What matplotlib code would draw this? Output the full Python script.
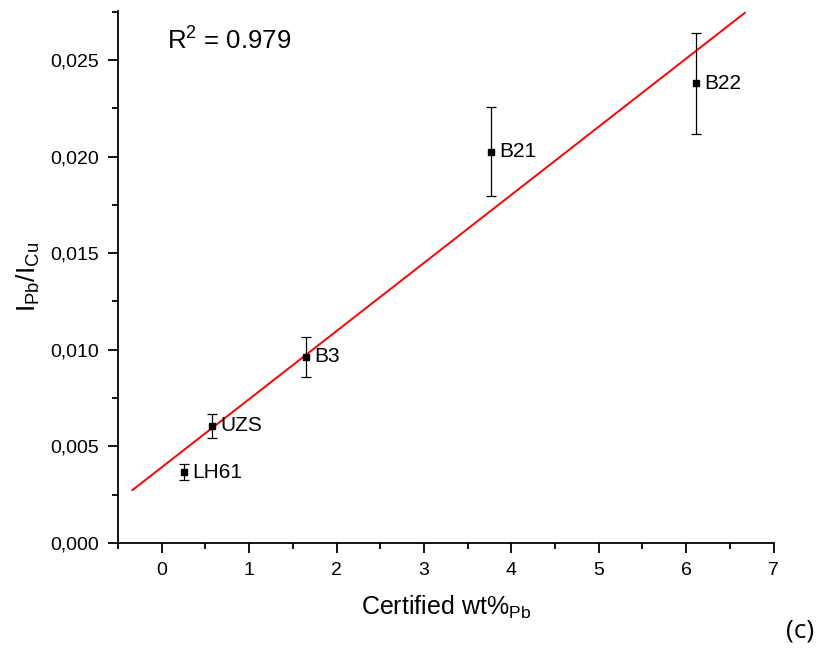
import numpy as np
import matplotlib
matplotlib.use('Agg')
import matplotlib.pyplot as plt
from matplotlib.ticker import MultipleLocator, FuncFormatter

plt.rcParams["font.family"] = "Liberation Sans"
plt.rcParams["mathtext.default"] = "regular"

# samples: certified Pb content vs intensity ratio
names = ['LH61', 'UZS', 'B3', 'B21', 'B22']
wt_pb = [0.25, 0.57, 1.646, 3.77, 6.11]
ratio = [0.00367, 0.00606, 0.00963, 0.02026, 0.02379]
ratio_err = [0.0004, 0.00063, 0.00105, 0.0023, 0.0026]

# linear fit line endpoints
fit_x = [-0.335, 6.67]
fit_slope = 0.003525
fit_icpt = 0.00392

fig = plt.figure(figsize=(8.22, 6.49), dpi=100)
ax = fig.add_axes([0.1436, 0.1633, 0.7975, 0.8197])

fx = np.array(fit_x)
ax.plot(fx, fit_slope*fx + fit_icpt, color='red', lw=1.4, zorder=1)
ax.errorbar(wt_pb, ratio, yerr=ratio_err, fmt='s', color='black', ms=4.5,
            ecolor='black', elinewidth=0.9, capsize=3.5, capthick=0.9, zorder=2)
for n, xv, yv in zip(names, wt_pb, ratio):
    ax.annotate(n, (xv, yv), xytext=(6, 0), textcoords='offset points',
                va='center', ha='left', fontsize=15)

ax.text(0.075, 0.97, 'R$^2$ = 0.979', transform=ax.transAxes, fontsize=18.5,
        va='top', ha='left')

ax.set_xlim(-0.5, 7)
ax.set_ylim(0, 0.02753)
ax.spines['top'].set_visible(False)
ax.spines['right'].set_visible(False)
for s in ['left', 'bottom']:
    ax.spines[s].set_linewidth(1.3)
ax.xaxis.set_major_locator(MultipleLocator(1))
ax.xaxis.set_minor_locator(MultipleLocator(0.5))
ax.yaxis.set_major_locator(MultipleLocator(0.005))
ax.yaxis.set_minor_locator(MultipleLocator(0.0025))
ax.yaxis.set_major_formatter(FuncFormatter(lambda v, p: f'{v:.3f}'.replace('.', ',')))
ax.tick_params(which='major', direction='out', length=7.5, width=1.3, labelsize=14, pad=6)
ax.tick_params(which='minor', direction='out', length=4.5, width=1.3)

ax.set_xlabel('Certified wt%$_{Pb}$', fontsize=18, labelpad=11)
ax.set_ylabel('I$_{Pb}$/I$_{Cu}$', fontsize=19, labelpad=6)

fig.text(0.99, 0.008, '(c)', fontsize=19, family='Open Sans', ha='right', va='bottom')

plt.savefig('out.png', dpi=100)
